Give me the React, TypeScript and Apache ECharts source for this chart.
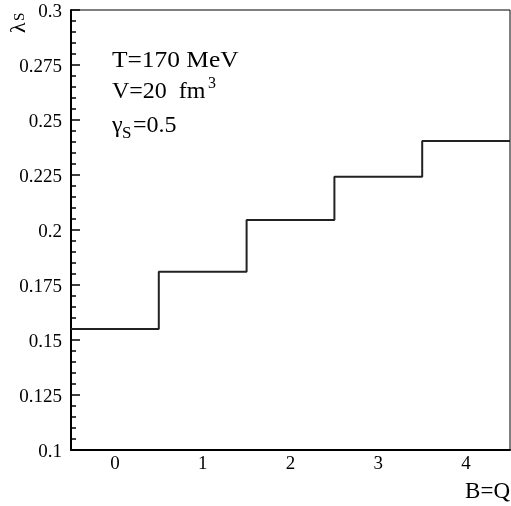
import React, { useEffect, useRef } from "react";
import * as echarts from "echarts";

const categories = ["0", "1", "2", "3", "4"];
const lambdaS = [0.155, 0.181, 0.2045, 0.2242, 0.2405];
const yMin = 0.1;
const yMax = 0.3;
const yInterval = 0.025;
const xAxisTitle = "B=Q";

const FONT = "Liberation Serif";
const C = 0.3375; // baseline offset from the 'middle' anchor, in em

function txt(text: string, x: number, baseline: number, size: number, extra: any = {}) {
  return {
    type: "text",
    x,
    y: baseline - C * size,
    style: {
      text,
      fontFamily: FONT,
      fontSize: size,
      fill: "#000",
      align: "left",
      verticalAlign: "middle",
      ...extra,
    },
  };
}

export default function App() {
  const ref = useRef<HTMLDivElement>(null);
  useEffect(() => {
    if (!ref.current) return;
    const chart = echarts.init(ref.current, undefined, { renderer: "svg" });
    const stepPoints: [number, number][] = [];
    lambdaS.forEach((v, i) => {
      stepPoints.push([i - 0.5, v]);
      stepPoints.push([i + 0.5, v]);
    });
    chart.setOption({
      animation: false,
      grid: {
        left: 71,
        top: 10,
        right: 1,
        bottom: 56,
        show: true,
        borderColor: "#000",
        borderWidth: 1,
      },
      xAxis: [
        {
          type: "category",
          data: categories,
          boundaryGap: true,
          axisLine: { lineStyle: { color: "#000", width: 2 } },
          axisTick: { inside: true, length: 9, lineStyle: { color: "#000", width: 1.5 } },
          axisLabel: {
            interval: 0,
            margin: 3,
            color: "#000",
            fontFamily: FONT,
            fontSize: 19,
          },
          splitLine: { show: false },
        },
        {
          type: "value",
          min: -0.5,
          max: 4.5,
          show: false,
        },
      ],
      yAxis: {
        type: "value",
        min: yMin,
        max: yMax,
        interval: yInterval,
        axisLine: { show: true, onZero: false, lineStyle: { color: "#000", width: 2 } },
        axisTick: { inside: true, length: 9, lineStyle: { color: "#000", width: 1.5 } },
        minorTick: { show: true, splitNumber: 5, length: 5, lineStyle: { color: "#000", width: 1.5 } },
        splitLine: { show: false },
        minorSplitLine: { show: false },
        axisLabel: {
          margin: 9,
          color: "#000",
          fontFamily: FONT,
          fontSize: 19,
          formatter: (v: number) => String(parseFloat(v.toFixed(3))),
        },
      },
      series: [
        {
          type: "line",
          xAxisIndex: 1,
          data: stepPoints,
          symbol: "none",
          lineStyle: { color: "#222", width: 2 },
        },
      ],
      graphic: [
        { ...txt("T=170 MeV", 112, 67, 24), scaleX: 1.06 },
        txt("V=20  fm", 112, 98, 24),
        txt("3", 208, 88, 16),
        txt("γ", 112, 132, 24),
        txt("S", 122, 138, 17),
        txt("=0.5", 133, 132, 24),
        {
          type: "text",
          x: 25 - C * 22,
          y: 33,
          rotation: Math.PI / 2,
          style: { text: "λ", fontFamily: FONT, fontSize: 22, fill: "#000", align: "left", verticalAlign: "middle" },
        },
        {
          type: "text",
          x: 24 - C * 15,
          y: 21,
          rotation: Math.PI / 2,
          style: { text: "S", fontFamily: FONT, fontSize: 15, fill: "#000", align: "left", verticalAlign: "middle" },
        },
        txt(xAxisTitle, 510, 498, 23, { align: "right" }),
      ],
    });
    return () => chart.dispose();
  }, []);
  return (
    <div style={{ fontFamily: FONT }}>
      <div ref={ref} style={{ position: "fixed", left: 0, top: 0, width: 511, height: 506 }} />
    </div>
  );
}
